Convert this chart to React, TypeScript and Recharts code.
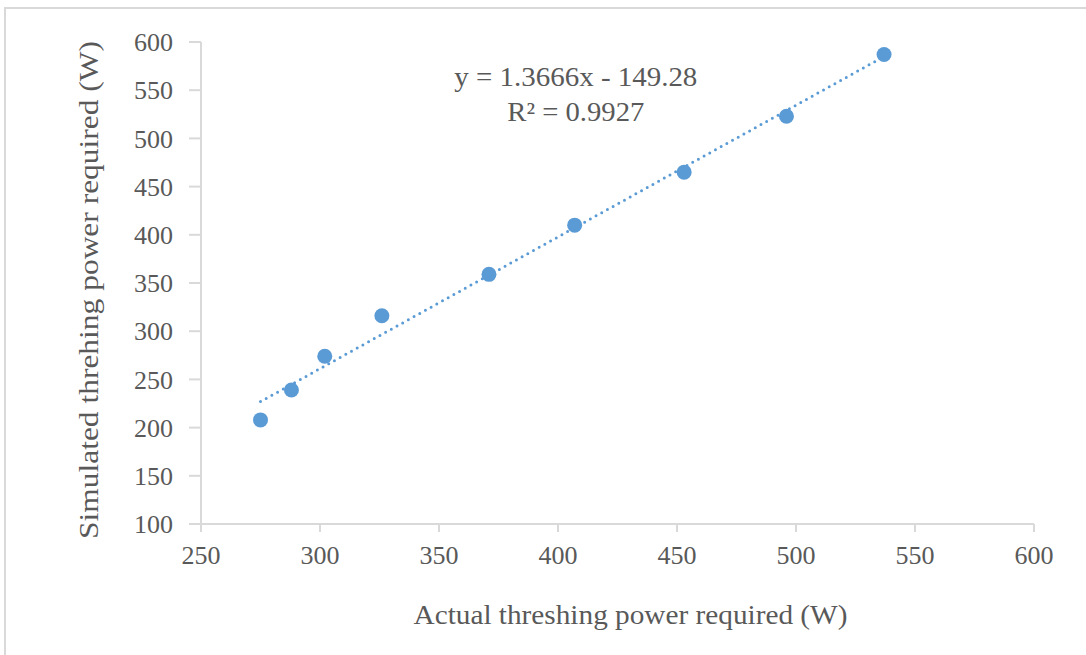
import React from 'react'
import {
  ScatterChart,
  Scatter,
  XAxis,
  YAxis,
  ReferenceLine,
  ReferenceDot,
} from 'recharts'

// measured points (actual W, simulated W)
const actualPower = [275, 288, 302, 326, 371, 407, 453, 496, 537]
const simulatedPower = [208, 239, 274, 316, 359, 410, 465, 523, 587]

// linear trendline end points
const trendX = [275, 537]
const trendY = [227, 585]

const xTicks = [250, 300, 350, 400, 450, 500, 550, 600]
const yTicks = [100, 150, 200, 250, 300, 350, 400, 450, 500, 550, 600]

const equationText = 'y = 1.3666x - 149.28'
const r2Text = 'R² = 0.9927'
const xTitle = 'Actual threshing power required (W)'
const yTitle = 'Simulated threhing power required (W)'

const points = actualPower.map((x, i) => ({ x, y: simulatedPower[i] }))
const trendSegment = trendX.map((x, i) => ({ x, y: trendY[i] }))

const FONT = '"Liberation Serif", "Times New Roman", serif'
const AXIS = '#d9d9d9'
const TEXT = '#595959'
const BLUE = '#5b9bd5'

const YTitle = (props: any) => {
  const vb = props.viewBox
  const cx = 89
  const cy = vb.y + vb.height / 2 + 7
  return (
    <text
      x={cx}
      y={cy}
      transform={`rotate(-90 ${cx} ${cy})`}
      textAnchor="middle"
      dominantBaseline="central"
      fontFamily={FONT}
      fontSize={27}
      fill={TEXT}
      textLength={498}
      lengthAdjust="spacingAndGlyphs"
    >
      {yTitle}
    </text>
  )
}

const XTitle = (props: any) => {
  const vb = props.viewBox
  const cx = vb.x + vb.width / 2 + 13
  return (
    <text
      x={cx}
      y={615}
      textAnchor="middle"
      dominantBaseline="central"
      fontFamily={FONT}
      fontSize={27}
      fill={TEXT}
      textLength={434}
      lengthAdjust="spacingAndGlyphs"
    >
      {xTitle}
    </text>
  )
}

const Equation = (props: any) => (
  <g>
    <text
      x={props.cx}
      y={props.cy}
      textAnchor="middle"
      dominantBaseline="central"
      fontFamily={FONT}
      fontSize={27}
      fill={TEXT}
      textLength={243}
      lengthAdjust="spacingAndGlyphs"
    >
      {equationText}
    </text>
    <text
      x={props.cx}
      y={props.cy + 35}
      textAnchor="middle"
      dominantBaseline="central"
      fontFamily={FONT}
      fontSize={27}
      fill={TEXT}
      textLength={137}
      lengthAdjust="spacingAndGlyphs"
    >
      {r2Text}
    </text>
  </g>
)

export default function App() {
  return (
    <div style={{ position: 'absolute', left: 0, top: 0, width: 1086, height: 655, background: '#fff', overflow: 'hidden' }}>
      <div
        style={{
          position: 'absolute',
          left: 4,
          top: 7,
          width: 1100,
          height: 700,
          border: '2px solid #d9d9d9',
          boxSizing: 'border-box',
        }}
      />
      <div style={{ position: 'absolute', left: 0, top: 0 }}>
        <ScatterChart width={1086} height={655} margin={{ top: 42, right: 52, bottom: 0, left: 0 }}>
          <XAxis
            type="number"
            dataKey="x"
            domain={[250, 600]}
            ticks={xTicks}
            interval={0}
            height={131}
            stroke={AXIS}
            strokeWidth={2}
            tickSize={8}
            tickMargin={14}
            tick={{ fill: TEXT, fontSize: 26, fontFamily: FONT }}
            label={<XTitle />}
          />
          <YAxis
            type="number"
            dataKey="y"
            domain={[100, 600]}
            ticks={yTicks}
            interval={0}
            width={201}
            stroke={AXIS}
            strokeWidth={2}
            tickSize={12}
            tickMargin={16}
            tick={{ fill: TEXT, fontSize: 26, fontFamily: FONT }}
            label={<YTitle />}
          />
          <ReferenceLine
            segment={trendSegment}
            stroke={BLUE}
            strokeWidth={3}
            strokeDasharray="0 6.5"
            strokeLinecap="round"
            ifOverflow="visible"
          />
          <Scatter data={points} fill={BLUE} isAnimationActive={false} shape={(p: any) => <circle cx={p.cx} cy={p.cy} r={7.5} fill={BLUE} />} />
          <ReferenceDot x={407.5} y={564} r={0} ifOverflow="visible" shape={(p: any) => <Equation {...p} />} />
        </ScatterChart>
      </div>
    </div>
  )
}
